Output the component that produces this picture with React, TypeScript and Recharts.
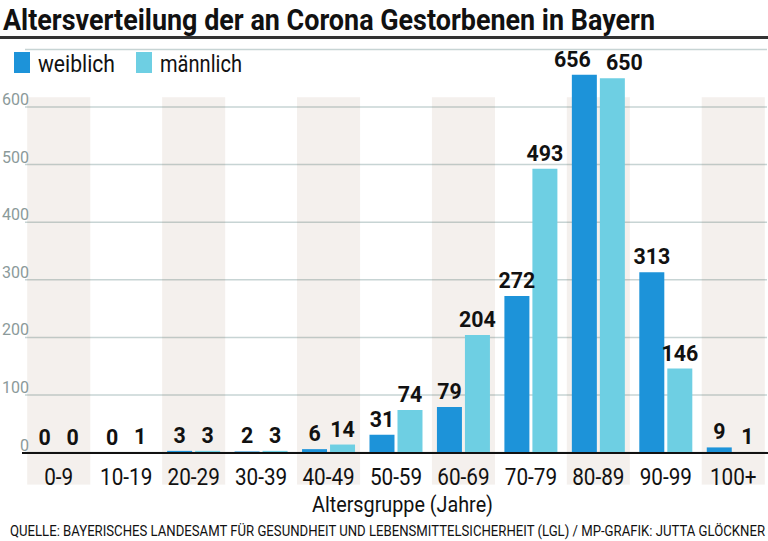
import { BarChart, Bar, XAxis, YAxis, CartesianGrid, LabelList, ReferenceArea } from 'recharts'

const categories = ['0-9', '10-19', '20-29', '30-39', '40-49', '50-59', '60-69', '70-79', '80-89', '90-99', '100+']
const weiblich = [0, 0, 3, 2, 6, 31, 79, 272, 656, 313, 9]
const maennlich = [0, 1, 3, 3, 14, 74, 204, 493, 650, 146, 1]
const yTicks = [0, 100, 200, 300, 400, 500, 600]

const TITLE = 'Altersverteilung der an Corona Gestorbenen in Bayern'
const AXIS_TITLE = 'Altersgruppe (Jahre)'
const SOURCE = 'QUELLE: BAYERISCHES LANDESAMT FÜR GESUNDHEIT UND LEBENSMITTELSICHERHEIT (LGL) / MP-GRAFIK: JUTTA GLÖCKNER'

const BLUE = '#1d93d9'
const CYAN = '#6ecfe3'
const FONT = "Roboto, 'Open Sans', sans-serif"

const W = 768
const H = 541

const data = categories.map((c, i) => ({ group: c, weiblich: weiblich[i], maennlich: maennlich[i] }))

// shaded column; extends down behind the tick labels
const BandShape = ({ x, y, width, height }: any) => (
  <rect x={x + 2.2} y={y} width={width - 4.4} height={height + 32} fill="#76441a" fillOpacity={0.08} />
)

const GroupTick = ({ x, y, payload }: any) => (
  <text
    transform={`translate(${x},${y + 24}) scale(0.9,1)`}
    textAnchor="middle"
    fontFamily={FONT}
    fontSize={23}
    fill="#111"
  >
    {payload.value}
  </text>
)

const ValueTick = ({ y, payload }: any) => (
  <text x={29} y={y - 2} textAnchor="end" fontFamily={FONT} fontSize={16} fill="#8b9a9a">
    {payload.value}
  </text>
)

// the two tallest labels are pushed apart so they don't collide
const makeLabel = (side: number) => ({ x, y, width, value, index }: any) => {
  const nudge = index === 8 ? side * 12 : 0
  return (
    <text
      transform={`translate(${x + width / 2 + nudge},${y - 8}) scale(0.95,1)`}
      textAnchor="middle"
      fontFamily={FONT}
      fontWeight="bold"
      fontSize={22.5}
      fill="#111"
    >
      {value}
    </text>
  )
}
const LabelW = makeLabel(-1)
const LabelM = makeLabel(1)

export default function App() {
  return (
    <div style={{ position: 'absolute', left: 0, top: 0, width: W, height: H, background: '#fff', overflow: 'hidden' }}>
      <BarChart
        width={W}
        height={H}
        data={data}
        margin={{ top: 49.4, right: 1, left: 0, bottom: 58.4 }}
        barGap={3}
        barCategoryGap="10.7%"
      >
        <CartesianGrid horizontal vertical={false} stroke="#c7d4d4" strokeWidth={1.5} />
        {categories.filter((_, i) => i % 2 === 0).map((c) => (
          <ReferenceArea key={c} x1={c} x2={c} y1={0} y2={617} ifOverflow="visible" shape={<BandShape />} />
        ))}
        <XAxis
          dataKey="group"
          height={30}
          interval={0}
          tickLine={false}
          axisLine={false}
          tick={<GroupTick />}
        />
        <YAxis
          width={25}
          domain={[0, 700]}
          ticks={yTicks}
          interval={0}
          tickLine={false}
          axisLine={false}
          tick={<ValueTick />}
        />
        <Bar dataKey="weiblich" fill={BLUE} minPointSize={0.1} isAnimationActive={false}>
          <LabelList dataKey="weiblich" content={<LabelW />} />
        </Bar>
        <Bar dataKey="maennlich" fill={CYAN} minPointSize={0.1} isAnimationActive={false}>
          <LabelList dataKey="maennlich" content={<LabelM />} />
        </Bar>
      </BarChart>

      <svg style={{ position: 'absolute', left: 0, top: 0, pointerEvents: 'none' }} width={W} height={H}>
        {/* title */}
        <text x={3} y={30} fontFamily={FONT} fontWeight="bold" fontSize={29} fill="#111" textLength={652} lengthAdjust="spacingAndGlyphs">
          {TITLE}
        </text>
        <rect x={0} y={36} width={W} height={3} fill="#333" />

        {/* legend */}
        <rect x={14} y={52} width={16} height={21} fill={BLUE} />
        <text x={38} y={72} fontFamily={FONT} fontSize={24} fill="#111" textLength={77} lengthAdjust="spacingAndGlyphs">weiblich</text>
        <rect x={136} y={52} width={16} height={21} fill={CYAN} />
        <text x={160} y={72} fontFamily={FONT} fontSize={24} fill="#111" textLength={82} lengthAdjust="spacingAndGlyphs">männlich</text>

        {/* x axis line */}
        <rect x={22} y={452} width={W - 22} height={2} fill="#111" />

        <text x={312} y={512} fontFamily={FONT} fontSize={22} fill="#111" textLength={181} lengthAdjust="spacingAndGlyphs">
          {AXIS_TITLE}
        </text>

        <text x={10} y={536} fontFamily={FONT} fontSize={14.5} fill="#111" textLength={755} lengthAdjust="spacingAndGlyphs">
          {SOURCE}
        </text>
      </svg>
    </div>
  )
}
